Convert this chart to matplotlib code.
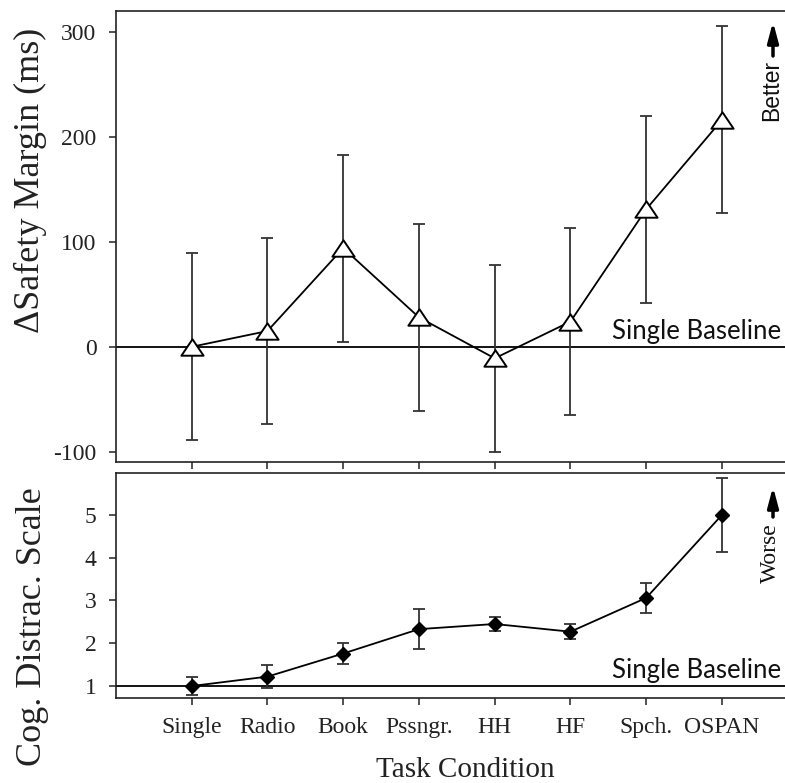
import numpy as np
import matplotlib
matplotlib.use('Agg')
from matplotlib import pyplot as plt
from matplotlib.path import Path

plt.rcParams['font.family'] = 'Liberation Serif'
plt.rcParams['axes.unicode_minus'] = False

conditions = ['Single', 'Radio', 'Book', 'Pssngr.', 'HH', 'HF', 'Spch.', 'OSPAN']
safety_margin = [0, 15, 94, 28, -11, 24, 131, 216]
safety_err = [89, 89, 89, 89, 89, 89, 89, 89]
cog_scale = [1.0, 1.22, 1.76, 2.33, 2.45, 2.27, 3.06, 5.0]
cog_err = [0.2, 0.26, 0.235, 0.47, 0.17, 0.18, 0.35, 0.87]
safety_ticks = [-100, 0, 100, 200, 300]
cog_ticks = [1, 2, 3, 4, 5]

W, H = 785, 783
fig = plt.figure(figsize=(W / 100, H / 100), dpi=100)

# axes placed in pixel terms, right edge runs off the picture like the original
left, right = 116, 797.7
ax1 = fig.add_axes([left / W, 1 - 462.3 / H, (right - left) / W, (462.3 - 10.7) / H])
ax2 = fig.add_axes([left / W, 1 - 698 / H, (right - left) / W, (698 - 473) / H])

x = np.arange(1, len(conditions) + 1)
# wide open triangle (closed path so it fills)
tri = Path([(0, 0.74), (-1, -0.74), (1, -0.74), (0, 0.74)],
           [Path.MOVETO, Path.LINETO, Path.LINETO, Path.CLOSEPOLY])

# top panel
ax1.errorbar(x, safety_margin, yerr=safety_err, fmt='none', ecolor='#333333',
             elinewidth=1.3, capsize=4.5, capthick=1.3, zorder=2)
ax1.plot(x, safety_margin, color='black', lw=1.3, marker=tri, ms=16,
         mfc='white', mec='black', mew=1.4, zorder=3)
ax1.axhline(0, color='black', lw=1.3, zorder=1)
ax1.set_ylim(-110, 320)
ax1.set_yticks(safety_ticks)
ax1.set_xticks(x)
ax1.set_xticklabels([])

# bottom panel
ax2.errorbar(x, cog_scale, yerr=cog_err, fmt='none', ecolor='#333333',
             elinewidth=1.3, capsize=4, capthick=1.3, zorder=2)
ax2.plot(x, cog_scale, color='black', lw=1.3, marker='D', ms=7.5,
         mfc='black', mec='black', zorder=3)
ax2.axhline(1, color='black', lw=1.3, zorder=1)
ax2.set_ylim(0.72, 5.98)
ax2.set_yticks(cog_ticks)
ax2.set_xticks(x)
ax2.set_xticklabels(conditions)

for ax in (ax1, ax2):
    ax.set_xlim(0, 9)
    ax.tick_params(axis='both', direction='out', length=5, width=1.1,
                   labelsize=17, pad=9, colors='#222222', top=False, right=False)
    for s in ax.spines.values():
        s.set_linewidth(1.2)
        s.set_color('#222222')

# baseline labels
for ax, yb in ((ax1, 0), (ax2, 1)):
    ax.annotate('Single Baseline', xy=(612, yb), xycoords=('figure pixels', 'data'),
                xytext=(0, 8), textcoords='offset pixels', va='baseline', ha='left',
                fontsize=18.5, family='Lato', color='#111111', annotation_clip=False)

# axis labels
fig.text(30 / W, 1 - 180 / H, '\u0394Safety Margin (ms)', rotation=90,
         ha='center', va='center', fontsize=26, color='#222222')
fig.text(33 / W, 1 - 627 / H, 'Cog. Distrac. Scale', rotation=90,
         ha='center', va='center', fontsize=26, color='#222222')
fig.text(465 / W, 1 - 777 / H, 'Task Condition', ha='center', va='baseline',
         fontsize=21, color='#222222')

# direction arrows
arr = dict(arrowstyle='-|>,head_length=0.6,head_width=0.16', lw=2.5,
           color='black', mutation_scale=20, shrinkA=0, shrinkB=0)
ax1.annotate('', xy=(773, H - 21.7), xytext=(773, H - 56), xycoords='figure pixels',
             textcoords='figure pixels', arrowprops=arr)
ax2.annotate('', xy=(773, H - 486.7), xytext=(773, H - 517), xycoords='figure pixels',
             textcoords='figure pixels', arrowprops=arr)
fig.text(760 / W, 1 - 121 / H, 'Better', rotation=90, ha='left', va='bottom',
         fontsize=16.5, family='Liberation Sans', color='#111111')
fig.text(760 / W, 1 - 583 / H, 'Worse', rotation=90, ha='left', va='bottom',
         fontsize=17, color='#111111')

fig.savefig('out.png', dpi=100)
